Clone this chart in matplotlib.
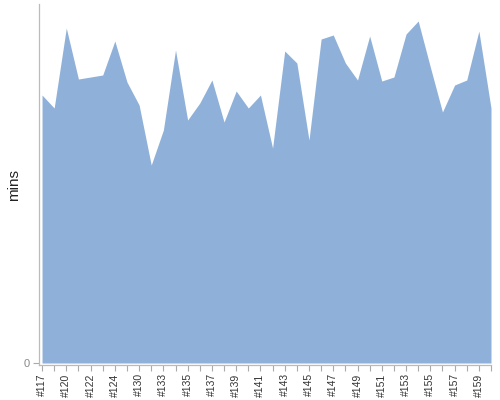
import numpy as np
import matplotlib
matplotlib.use('Agg')
import matplotlib.pyplot as plt

# build numbers along the x axis (only every other one is labelled)
builds = [117, 119, 120, 121, 122, 123, 124, 127, 130, 131,
          133, 134, 135, 136, 137, 138, 139, 140, 141, 142,
          143, 144, 145, 146, 147, 148, 149, 150, 151, 152,
          153, 154, 155, 156, 157, 158, 159, 160]

# build duration in minutes
mins = [26.8, 25.5, 33.5, 28.4, 28.6, 28.8, 32.2, 28.1, 25.8, 19.8,
        23.3, 31.3, 24.3, 26.0, 28.3, 24.1, 27.2, 25.5, 26.8, 21.5,
        31.2, 30.0, 22.3, 32.4, 32.8, 30.0, 28.3, 32.7, 28.2, 28.6,
        32.9, 34.2, 29.6, 25.1, 27.8, 28.3, 33.2, 25.5]

labels = ['#%d' % b if i % 2 == 0 else '' for i, b in enumerate(builds)]

plt.rcParams['font.family'] = ['Liberation Sans', 'DejaVu Sans']

fig = plt.figure(figsize=(5, 4), dpi=100)
ax = fig.add_axes([0.078, 0.0875, 0.904, 0.9025])

x = np.arange(len(builds))
ax.fill_between(x, 0, mins, color='#8FB1D9', linewidth=0)

ax.set_xlim(-0.25, len(builds) - 1)
ax.set_ylim(-0.2, 35.9)

ax.set_xticks(x)
ax.set_xticklabels(labels, rotation=90, fontsize=7.5, color='#333333')
ax.set_yticks([0])
ax.set_yticklabels(['0'], fontsize=8, color='#888888')
ax.tick_params(axis='x', length=4, width=0.8, color='#aaaaaa', pad=2)
ax.tick_params(axis='y', length=4, width=0.8, color='#aaaaaa', pad=3)

# axis title sits close to the left edge
fig.text(0.028, 0.5375, 'mins', rotation=90, fontsize=11, color='#222222',
         ha='center', va='center')

for side in ['top', 'right']:
    ax.spines[side].set_visible(False)
for side in ['left', 'bottom']:
    ax.spines[side].set_color('#bbbbbb')
    ax.spines[side].set_linewidth(0.9)

fig.savefig('out.png', dpi=100)
